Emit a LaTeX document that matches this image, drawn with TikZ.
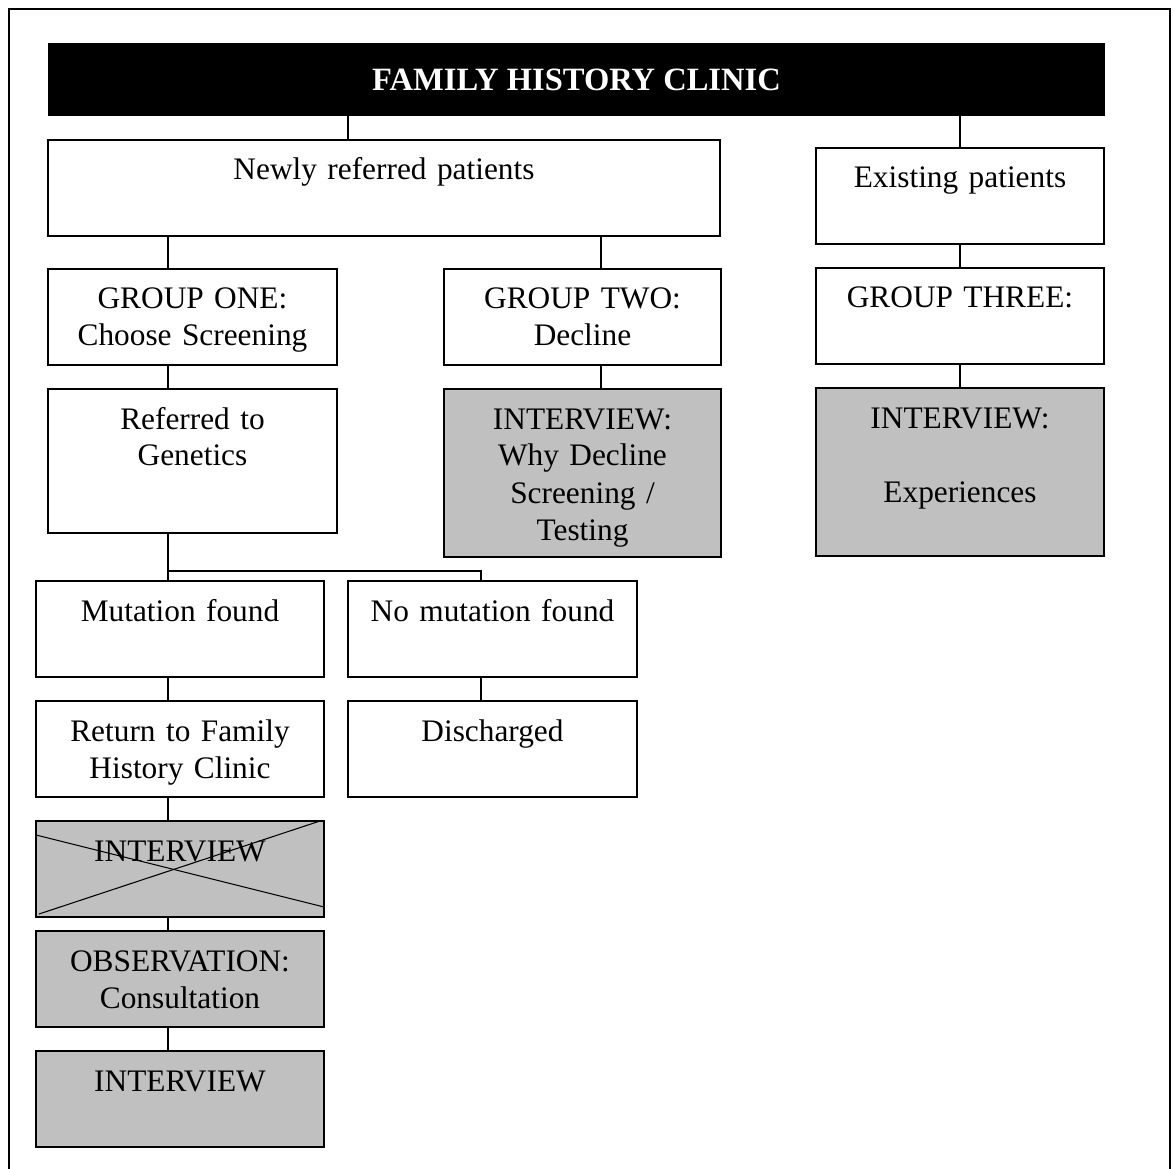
\documentclass[tikz,border=0pt]{standalone}
\usepackage{fontspec}
\setmainfont{Liberation Serif}
\usetikzlibrary{positioning}
\definecolor{boxgrey}{RGB}{192,192,192}
\begin{document}
\begin{tikzpicture}[x=0.75pt, y=-0.75pt, node distance=18pt, font=\fontsize{23.5}{27.75}\selectfont,
		cell/.style={draw, line width=0.8pt, inner sep=0pt, outer sep=0pt, align=center, text height=30pt, text depth=42pt, text width=216pt},
		tall/.style={text depth=78pt},
		taller/.style={text depth=96pt},
		group/.style={cell, line width=1.2pt},
		shade/.style={cell, fill=boxgrey},
		link/.style={line width=0.8pt}]
		\useasboundingbox (0,0) rectangle (1174,1169);
		\draw[line width=1.4pt] (9,1169) -- (9,9) -- (1170,9) -- (1170,1169);
		\node[fill=black, text=white, font=\fontsize{24.4}{27.75}\selectfont\bfseries, minimum width=792.75pt, minimum height=54.75pt, inner sep=0pt, outer sep=0pt, anchor=north west] (title) at (48,43) {FAMILY HISTORY CLINIC};
		\node[cell, text width=504pt, anchor=north west] (newly) at (48,140) {Newly referred patients};
		\node[cell, anchor=north west] (existing) at (816,148) {Existing patients};
		\node[group, text width=216.75pt, anchor=north west] (groupone) at (48,269) {GROUP ONE:\\ Choose Screening};
		\node[group, text width=207.75pt, anchor=north west] (grouptwo) at (444,269) {GROUP TWO:\\ Decline};
		\node[group, below=of existing] (groupthree) {GROUP THREE:};
		\node[cell, tall, text width=216.75pt, below=of groupone] (referred) {Referred to\\ Genetics};
		\node[shade, taller, text width=207.75pt, below=of grouptwo] (whydecline) {INTERVIEW:\\ Why Decline\\ Screening /\\ Testing};
		\node[shade, taller, below=of groupthree] (experiences) {INTERVIEW:\\[27.75pt] Experiences};
		\node[cell, anchor=north west] (mutation) at (36,581) {Mutation found};
		\node[cell, text width=216.75pt, anchor=north west] (nomutation) at (348,581) {No mutation found};
		\node[cell, below=of mutation] (returnfhc) {Return to Family\\ History Clinic};
		\node[cell, text width=216.75pt, below=of nomutation] (discharged) {Discharged};
		\node[shade, below=of returnfhc] (crossed) {INTERVIEW};
		\node[shade, below=10.5pt of crossed] (observation) {OBSERVATION:\\ Consultation};
		\node[shade, below=of observation] (interview) {INTERVIEW};
		\draw[link] ([yshift=-10.5pt]crossed.north west) -- ([yshift=7.5pt]crossed.south east);
		\draw[link] ([xshift=2.25pt, yshift=2.25pt]crossed.south west) -- ([xshift=-3pt]crossed.north east);
		\coordinate (spineT) at (348,0);
		\coordinate (spineL) at (168,0);
		\coordinate (spineM) at (601,0);
		\coordinate (spineN) at (481,0);
		\coordinate (fork) at (168,571);
		\draw[link] (title.south -| spineT) -- (newly.north -| spineT);
		\draw[link] (title.south -| existing.north) -- (existing.north);
		\draw[link] (newly.south -| spineL) -- (groupone.north -| spineL);
		\draw[link] (newly.south -| spineM) -- (grouptwo.north -| spineM);
		\draw[link] (existing) -- (groupthree);
		\draw[link] (groupone.south -| spineL) -- (referred.north -| spineL);
		\draw[link] (grouptwo.south -| spineM) -- (whydecline.north -| spineM);
		\draw[link] (groupthree) -- (experiences);
		\draw[link] (referred.south -| fork) -- (mutation.north -| fork);
		\draw[link] (fork) -| (nomutation.north -| spineN);
		\draw[link] (mutation.south -| spineL) -- (returnfhc.north -| spineL);
		\draw[link] (returnfhc.south -| spineL) -- (crossed.north -| spineL);
		\draw[link] (crossed.south -| spineL) -- (observation.north -| spineL);
		\draw[link] (observation.south -| spineL) -- (interview.north -| spineL);
		\draw[link] (nomutation.south -| spineN) -- (discharged.north -| spineN);
	\end{tikzpicture}
\end{document}
